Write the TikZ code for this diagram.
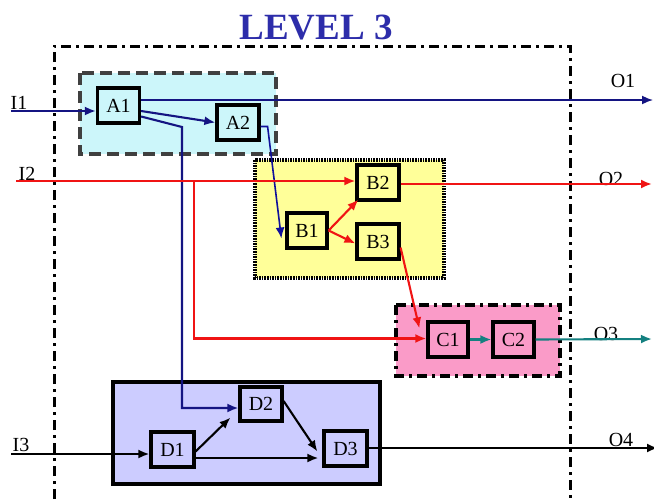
\documentclass[tikz,border=0pt]{standalone}
\usepackage{fontspec}
\setmainfont{Liberation Serif}
\usepackage{xcolor}
\usetikzlibrary{arrows.meta}

\definecolor{navyline}{RGB}{20,20,130}
\definecolor{redline}{RGB}{240,20,20}
\definecolor{tealline}{RGB}{20,128,128}
\definecolor{titleblue}{RGB}{45,45,170}
\definecolor{cyanfill}{RGB}{204,246,250}
\definecolor{yellowfill}{RGB}{255,255,153}
\definecolor{pinkfill}{RGB}{250,155,200}
\definecolor{lavfill}{RGB}{204,204,255}

\tikzset{
  blk/.style={draw, line width=3.2pt, minimum width=42pt, minimum height=35pt, inner sep=0pt, font=\fontsize{20}{22}\selectfont},
  lbl/.style={font=\fontsize{20}{22}\selectfont, inner sep=0pt},
  flow/.style={line width=2.1pt, -{Latex[length=11pt,width=9pt]}},
  grp/.style={line width=3.2pt}
}

\begin{document}
\begin{tikzpicture}[x=1pt, y=-1pt]
      \useasboundingbox (0,0) rectangle (654,499);
      % title
      \node[font=\bfseries\fontsize{37}{40}\selectfont, text=titleblue] (title) at (316,28) {LEVEL 3};
      % level boundary
      \draw[line width=3pt, dash pattern=on 10pt off 5pt on 3pt off 5pt] (54,499) -- (54,46) -- (570,46) -- (570,499);
      % groups
      \draw[grp, fill=cyanfill, draw=black!75, dash pattern=on 12pt off 6pt] (80,73) rectangle (276,154);
      \draw[grp, fill=yellowfill, dash pattern=on 1.6pt off 1pt] (255,160) rectangle (444,278);
      \draw[grp, fill=pinkfill, dash pattern=on 10pt off 5pt on 3pt off 5pt] (396,305) rectangle (560,376);
      \draw[grp, fill=lavfill] (113,382) rectangle (380,484);
      % blocks
      \node[blk] (A1) at (118.5,105.5) {A1};
      \node[blk] (A2) at (238,122.5) {A2};
      \node[blk, minimum width=40pt] (B1) at (307,230.5) {B1};
      \node[blk] (B2) at (378,182.5) {B2};
      \node[blk] (B3) at (378,241.5) {B3};
      \node[blk, minimum width=40pt] (C1) at (448,339.5) {C1};
      \node[blk, minimum width=41pt] (C2) at (513.5,339.5) {C2};
      \node[blk, minimum width=43pt] (D1) at (172.5,449.5) {D1};
      \node[blk, minimum height=34pt] (D2) at (261,404) {D2};
      \node[blk, minimum width=43pt] (D3) at (345.5,448.5) {D3};
      % inputs and outputs
      \coordinate (i1) at (11,111);
      \coordinate (i2) at (16,181);
      \coordinate (i3) at (11,454);
      \coordinate (o1) at (653,100);
      \coordinate (o2) at (652,184);
      \coordinate (o3) at (652,339);
      \coordinate (o4) at (658,448);
      \coordinate (abend) at (182,127);
      \coordinate (rsplit) at (194,181);
      \node[lbl] (I1) at (19,103) {I1};
      \node[lbl] (I2) at (27,174) {I2};
      \node[lbl] (I3) at (21,445) {I3};
      \node[lbl] (O1) at (623,81) {O1};
      \node[lbl] (O2) at (611,179) {O2};
      \node[lbl] (O3) at (606,334) {O3};
      \node[lbl] (O4) at (621,440) {O4};
      % A path
      \draw[flow, navyline] (i1) -- (i1 -| A1.west);
      \draw[flow, navyline, line width=1.6pt] (o1 -| A1.east) -- (o1);
      \draw[flow, navyline] ([yshift=-5.5pt]A1.east) -- (A2.west);
      \draw[flow, navyline] ([yshift=-11pt]A1.east) -- (abend) |- ([yshift=-4pt]D2.west);
      \draw[flow, navyline!80!blue, line width=1.6pt] ([yshift=-4pt]A2.east) -- ++(7,0) -- ([xshift=-4pt,yshift=-8pt]B1.west);
      % B path
      \draw[flow, redline] (i2) -- (i2 -| B2.west);
      \draw[flow, redline, line width=2.6pt] (rsplit) |- ([yshift=1pt]C1.west);
      \draw[flow, redline] (B1.east) -- ([xshift=3pt,yshift=2pt]B2.south west);
      \draw[flow, redline] (B1.east) -- ([yshift=-2pt]B3.west);
      \draw[flow, redline] (B2.east |- o2) -- (o2);
      \draw[flow, redline] ([yshift=-6pt]B3.east) -- ([xshift=-7pt,yshift=-8pt]C1.north west);
      % C path
      \draw[flow, tealline] (C1.east) -- (C2.west);
      \draw[flow, tealline] (C2.east) -- (o3);
      % D path
      \draw[flow, black] (i3) -- (i3 -| D1.west);
      \draw[flow, black] ([yshift=-2pt]D1.east) -- ([xshift=-8pt,yshift=5pt]D2.south west);
      \draw[flow, black] ([yshift=-8.5pt]D1.east) -- ([yshift=-8.5pt,xshift=-4pt]D1.east -| D3.west);
      \draw[flow, black] ([yshift=3pt]D2.east) -- ([xshift=-5pt,yshift=-3pt]D3.west);
      \draw[flow, black] (D3.east |- o4) -- (o4);
    \end{tikzpicture}
\end{document}
